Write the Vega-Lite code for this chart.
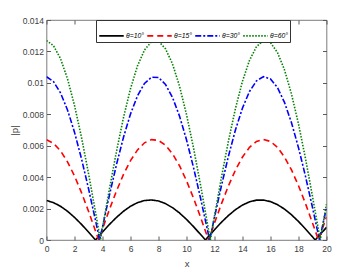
{
  "$schema": "https://vega.github.io/schema/vega-lite/v6.json",
  "width": 280,
  "height": 220,
  "autosize": {"type": "none"},
  "padding": {"left": 46.5, "top": 20, "right": 33.5, "bottom": 30},
  "background": "white",
  "config": {
    "view": {"stroke": "#5a5a5a", "strokeWidth": 0.8},
    "font": "Liberation Sans",
    "axis": {"labelFont": "Liberation Sans", "titleFont": "Liberation Sans", "labelColor": "#404040", "titleColor": "#404040", "tickColor": "#5a5a5a", "domainColor": "#5a5a5a", "grid": false}
  },
  "data": {"values": [
    {"x":0,"y":0.002513,"s":"θ=10°"},{"x":0.5,"y":0.002377,"s":"θ=10°"},{"x":1,"y":0.002147,"s":"θ=10°"},{"x":1.5,"y":0.00183,"s":"θ=10°"},{"x":2,"y":0.00144,"s":"θ=10°"},{"x":2.5,"y":0.000994,"s":"θ=10°"},{"x":3,"y":0.000507,"s":"θ=10°"},{"x":3.5,"y":0,"s":"θ=10°"},{"x":4,"y":0.000507,"s":"θ=10°"},{"x":4.5,"y":0.000994,"s":"θ=10°"},{"x":5,"y":0.00144,"s":"θ=10°"},{"x":5.5,"y":0.00183,"s":"θ=10°"},{"x":6,"y":0.002147,"s":"θ=10°"},{"x":6.5,"y":0.002377,"s":"θ=10°"},{"x":7,"y":0.002513,"s":"θ=10°"},{"x":7.5,"y":0.002549,"s":"θ=10°"},{"x":8,"y":0.002483,"s":"θ=10°"},{"x":8.5,"y":0.002318,"s":"θ=10°"},{"x":9,"y":0.00206,"s":"θ=10°"},{"x":9.5,"y":0.00172,"s":"θ=10°"},{"x":10,"y":0.001312,"s":"θ=10°"},{"x":10.5,"y":0.000851,"s":"θ=10°"},{"x":11,"y":0.000356,"s":"θ=10°"},{"x":11.35,"y":0,"s":"θ=10°"},{"x":11.5,"y":0.000153,"s":"θ=10°"},{"x":12,"y":0.000656,"s":"θ=10°"},{"x":12.5,"y":0.001133,"s":"θ=10°"},{"x":13,"y":0.001564,"s":"θ=10°"},{"x":13.5,"y":0.001933,"s":"θ=10°"},{"x":14,"y":0.002225,"s":"θ=10°"},{"x":14.5,"y":0.002428,"s":"θ=10°"},{"x":15,"y":0.002535,"s":"θ=10°"},{"x":15.5,"y":0.00254,"s":"θ=10°"},{"x":16,"y":0.002443,"s":"θ=10°"},{"x":16.5,"y":0.00225,"s":"θ=10°"},{"x":17,"y":0.001966,"s":"θ=10°"},{"x":17.5,"y":0.001604,"s":"θ=10°"},{"x":18,"y":0.001178,"s":"θ=10°"},{"x":18.5,"y":0.000705,"s":"θ=10°"},{"x":19,"y":0.000204,"s":"θ=10°"},{"x":19.2,"y":0,"s":"θ=10°"},{"x":19.5,"y":0.000305,"s":"θ=10°"},{"x":20,"y":0.000803,"s":"θ=10°"},
    {"x":0,"y":0.00638,"s":"θ=15°"},{"x":0.5,"y":0.006151,"s":"θ=15°"},{"x":1,"y":0.005676,"s":"θ=15°"},{"x":1.5,"y":0.004975,"s":"θ=15°"},{"x":2,"y":0.004077,"s":"θ=15°"},{"x":2.5,"y":0.003014,"s":"θ=15°"},{"x":3,"y":0.001831,"s":"θ=15°"},{"x":3.5,"y":0.000575,"s":"θ=15°"},{"x":3.725,"y":0,"s":"θ=15°"},{"x":4,"y":0.000703,"s":"θ=15°"},{"x":4.5,"y":0.001953,"s":"θ=15°"},{"x":5,"y":0.003125,"s":"θ=15°"},{"x":5.5,"y":0.004174,"s":"θ=15°"},{"x":6,"y":0.005054,"s":"θ=15°"},{"x":6.5,"y":0.005734,"s":"θ=15°"},{"x":7,"y":0.006185,"s":"θ=15°"},{"x":7.5,"y":0.006388,"s":"θ=15°"},{"x":8,"y":0.006337,"s":"θ=15°"},{"x":8.5,"y":0.006033,"s":"θ=15°"},{"x":9,"y":0.005488,"s":"θ=15°"},{"x":9.5,"y":0.004726,"s":"θ=15°"},{"x":10,"y":0.003773,"s":"θ=15°"},{"x":10.5,"y":0.002669,"s":"θ=15°"},{"x":11,"y":0.00146,"s":"θ=15°"},{"x":11.5,"y":0.000192,"s":"θ=15°"},{"x":11.575,"y":0,"s":"θ=15°"},{"x":12,"y":0.001084,"s":"θ=15°"},{"x":12.5,"y":0.002315,"s":"θ=15°"},{"x":13,"y":0.003456,"s":"θ=15°"},{"x":13.5,"y":0.004458,"s":"θ=15°"},{"x":14,"y":0.005281,"s":"θ=15°"},{"x":14.5,"y":0.005894,"s":"θ=15°"},{"x":15,"y":0.006272,"s":"θ=15°"},{"x":15.5,"y":0.0064,"s":"θ=15°"},{"x":16,"y":0.006272,"s":"θ=15°"},{"x":16.5,"y":0.005894,"s":"θ=15°"},{"x":17,"y":0.005281,"s":"θ=15°"},{"x":17.5,"y":0.004458,"s":"θ=15°"},{"x":18,"y":0.003456,"s":"θ=15°"},{"x":18.5,"y":0.002315,"s":"θ=15°"},{"x":19,"y":0.001084,"s":"θ=15°"},{"x":19.425,"y":0,"s":"θ=15°"},{"x":19.5,"y":0.000192,"s":"θ=15°"},{"x":20,"y":0.00146,"s":"θ=15°"},
    {"x":0,"y":0.010387,"s":"θ=30°"},{"x":0.5,"y":0.010076,"s":"θ=30°"},{"x":1,"y":0.009364,"s":"θ=30°"},{"x":1.5,"y":0.008277,"s":"θ=30°"},{"x":2,"y":0.006861,"s":"θ=30°"},{"x":2.5,"y":0.00517,"s":"θ=30°"},{"x":3,"y":0.003274,"s":"θ=30°"},{"x":3.5,"y":0.001246,"s":"θ=30°"},{"x":3.8,"y":0,"s":"θ=30°"},{"x":4,"y":0.000832,"s":"θ=30°"},{"x":4.5,"y":0.002876,"s":"θ=30°"},{"x":5,"y":0.004804,"s":"θ=30°"},{"x":5.5,"y":0.006541,"s":"θ=30°"},{"x":6,"y":0.00802,"s":"θ=30°"},{"x":6.5,"y":0.009175,"s":"θ=30°"},{"x":7,"y":0.009965,"s":"θ=30°"},{"x":7.5,"y":0.010358,"s":"θ=30°"},{"x":8,"y":0.010337,"s":"θ=30°"},{"x":8.5,"y":0.009904,"s":"θ=30°"},{"x":9,"y":0.009075,"s":"θ=30°"},{"x":9.5,"y":0.007884,"s":"θ=30°"},{"x":10,"y":0.006379,"s":"θ=30°"},{"x":10.5,"y":0.004619,"s":"θ=30°"},{"x":11,"y":0.002675,"s":"θ=30°"},{"x":11.5,"y":0.000624,"s":"θ=30°"},{"x":11.65,"y":0,"s":"θ=30°"},{"x":12,"y":0.001452,"s":"θ=30°"},{"x":12.5,"y":0.00347,"s":"θ=30°"},{"x":13,"y":0.00535,"s":"θ=30°"},{"x":13.5,"y":0.007016,"s":"θ=30°"},{"x":14,"y":0.008401,"s":"θ=30°"},{"x":14.5,"y":0.009453,"s":"θ=30°"},{"x":15,"y":0.010126,"s":"θ=30°"},{"x":15.5,"y":0.010395,"s":"θ=30°"},{"x":16,"y":0.01025,"s":"θ=30°"},{"x":16.5,"y":0.009695,"s":"θ=30°"},{"x":17,"y":0.008755,"s":"θ=30°"},{"x":17.5,"y":0.007464,"s":"θ=30°"},{"x":18,"y":0.005875,"s":"θ=30°"},{"x":18.5,"y":0.004052,"s":"θ=30°"},{"x":19,"y":0.002067,"s":"θ=30°"},{"x":19.5,"y":0,"s":"θ=30°"},{"x":20,"y":0.002067,"s":"θ=30°"},
    {"x":0,"y":0.012694,"s":"θ=60°"},{"x":0.5,"y":0.012365,"s":"θ=60°"},{"x":1,"y":0.011543,"s":"θ=60°"},{"x":1.5,"y":0.010259,"s":"θ=60°"},{"x":2,"y":0.008567,"s":"θ=60°"},{"x":2.5,"y":0.006533,"s":"θ=60°"},{"x":3,"y":0.004237,"s":"θ=60°"},{"x":3.5,"y":0.001773,"s":"θ=60°"},{"x":3.85,"y":0,"s":"θ=60°"},{"x":4,"y":0.000762,"s":"θ=60°"},{"x":4.5,"y":0.003266,"s":"θ=60°"},{"x":5,"y":0.005641,"s":"θ=60°"},{"x":5.5,"y":0.00779,"s":"θ=60°"},{"x":6,"y":0.009628,"s":"θ=60°"},{"x":6.5,"y":0.011083,"s":"θ=60°"},{"x":7,"y":0.012094,"s":"θ=60°"},{"x":7.5,"y":0.012623,"s":"θ=60°"},{"x":8,"y":0.012649,"s":"θ=60°"},{"x":8.5,"y":0.012169,"s":"θ=60°"},{"x":9,"y":0.011204,"s":"θ=60°"},{"x":9.5,"y":0.009793,"s":"θ=60°"},{"x":10,"y":0.007987,"s":"θ=60°"},{"x":10.5,"y":0.005867,"s":"θ=60°"},{"x":11,"y":0.003511,"s":"θ=60°"},{"x":11.5,"y":0.001015,"s":"θ=60°"},{"x":11.7,"y":0,"s":"θ=60°"},{"x":12,"y":0.001521,"s":"θ=60°"},{"x":12.5,"y":0.003997,"s":"θ=60°"},{"x":13,"y":0.006314,"s":"θ=60°"},{"x":13.5,"y":0.008379,"s":"θ=60°"},{"x":14,"y":0.010108,"s":"θ=60°"},{"x":14.5,"y":0.011434,"s":"θ=60°"},{"x":15,"y":0.012305,"s":"θ=60°"},{"x":15.5,"y":0.012684,"s":"θ=60°"},{"x":16,"y":0.012557,"s":"θ=60°"},{"x":16.5,"y":0.011929,"s":"θ=60°"},{"x":17,"y":0.010825,"s":"θ=60°"},{"x":17.5,"y":0.009289,"s":"θ=60°"},{"x":18,"y":0.007382,"s":"θ=60°"},{"x":18.5,"y":0.00518,"s":"θ=60°"},{"x":19,"y":0.002773,"s":"θ=60°"},{"x":19.5,"y":0.000254,"s":"θ=60°"},{"x":19.55,"y":0,"s":"θ=60°"},{"x":20,"y":0.002275,"s":"θ=60°"}
  ]},
  "layer": [
    {
      "mark": {"type": "line", "strokeWidth": 1.6, "clip": true},
      "encoding": {
        "x": {"field": "x", "type": "quantitative", "scale": {"domain": [0, 20], "nice": false},
              "axis": {"values": [0,2,4,6,8,10,12,14,16,18,20], "title": "x", "titleFontSize": 9.5, "titleFontWeight": "normal", "titlePadding": 6, "labelFontSize": 8.5, "tickSize": -4, "labelPadding": 8, "domain": false, "labelFlush": false}},
        "y": {"field": "y", "type": "quantitative", "scale": {"domain": [0, 0.014], "nice": false},
              "axis": {"values": [0,0.002,0.004,0.006,0.008,0.01,0.012,0.014], "format": "~g", "title": "|p|", "titleFontSize": 9.5, "titleFontWeight": "normal", "titlePadding": 3, "labelFontSize": 8.5, "tickSize": -4, "labelPadding": 7, "domain": false}},
        "color": {"field": "s", "type": "nominal", "scale": {"domain": ["θ=10°","θ=15°","θ=30°","θ=60°"], "range": ["#000000","#ff0000","#0000ff","#008000"]},
                  "legend": {"orient": "none", "legendX": 49.5, "legendY": 0, "direction": "horizontal", "columns": 4, "title": null, "symbolType": "stroke", "symbolSize": 600, "symbolStrokeWidth": 1.6, "labelFontSize": 6.8, "labelColor": "#000000", "labelOffset": 1, "columnPadding": 0, "padding": 2, "rowPadding": 0, "strokeColor": "#333333", "fillColor": "white", "labelFontStyle": "italic", "labelLimit": 40}},
        "strokeDash": {"field": "s", "type": "nominal", "scale": {"domain": ["θ=10°","θ=15°","θ=30°","θ=60°"], "range": [[1,0],[6,4],[6,2,2,2],[1.5,1.5]]}, "legend": null}
      }
    },
    {
      "mark": {"type": "rule", "opacity": 0},
      "encoding": {
        "x": {"datum": 0, "type": "quantitative", "axis": {"orient": "top", "values": [0,2,4,6,8,10,12,14,16,18,20], "labels": false, "title": null, "tickSize": -4, "domain": false}},
        "y": {"datum": 0, "type": "quantitative", "axis": {"orient": "right", "values": [0,0.002,0.004,0.006,0.008,0.01,0.012,0.014], "labels": false, "title": null, "tickSize": -4, "domain": false}}
      }
    }
  ],
  "resolve": {"axis": {"x": "independent", "y": "independent"}}
}
